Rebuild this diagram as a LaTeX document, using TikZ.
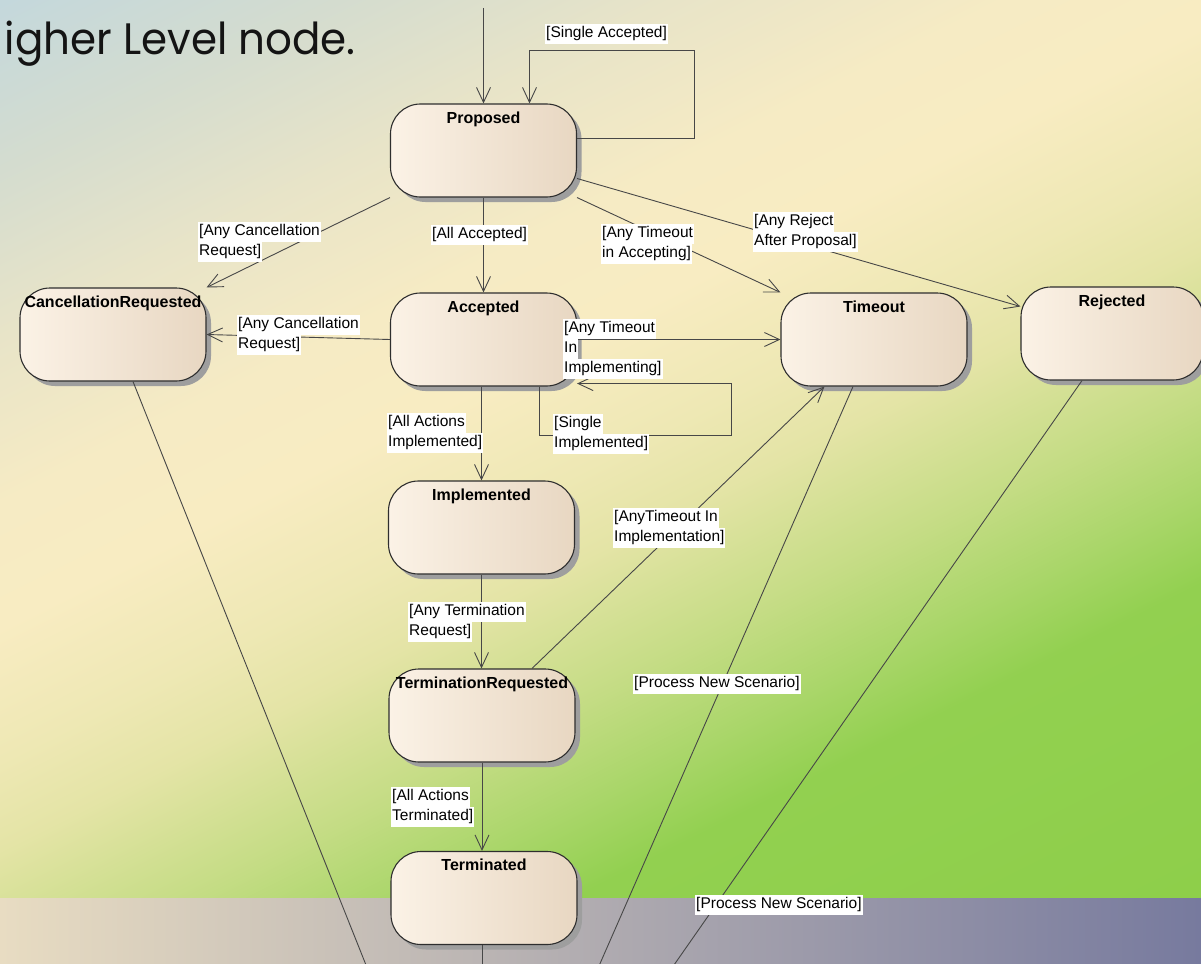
\documentclass[tikz,border=0pt]{standalone}
\usepackage{fontspec}
\setmainfont{Liberation Sans}
\newfontfamily\headf{Poppins}
\usetikzlibrary{arrows.meta,shadows,calc}
\definecolor{bgA}{HTML}{C4D8DC}
\definecolor{bgB}{HTML}{D4DCCF}
\definecolor{bgC}{HTML}{E8E4C8}
\definecolor{bgD}{HTML}{F6EBC4}
\definecolor{bgE}{HTML}{F8ECC2}
\definecolor{bgF}{HTML}{EEE8B4}
\definecolor{bgG}{HTML}{E4E4A6}
\definecolor{bgH}{HTML}{C4DC84}
\definecolor{bgI}{HTML}{AAD66A}
\definecolor{bgJ}{HTML}{92D050}
\definecolor{bgK}{HTML}{8ECF4A}
\definecolor{bandL}{HTML}{E8DCC2}
\definecolor{bandM}{HTML}{B4B2AD}
\definecolor{bandR}{HTML}{777A9E}
\definecolor{edgec}{HTML}{474747}
\definecolor{boxL}{HTML}{FBF2E6}
\definecolor{boxM}{HTML}{F9EEDF}
\definecolor{boxR}{HTML}{E8D7C2}
\definecolor{boxline}{HTML}{2E2E2E}
\pgfdeclarehorizontalshading{bgsh}{100bp}{color(0bp)=(bgA); color(26.08bp)=(bgA);
 color(31.44bp)=(bgB); color(36.79bp)=(bgC); color(42.15bp)=(bgD); color(46.08bp)=(bgE);
 color(50.36bp)=(bgF); color(53.22bp)=(bgG); color(57.86bp)=(bgH); color(61.08bp)=(bgI);
 color(63.94bp)=(bgJ); color(73.94bp)=(bgK); color(100bp)=(bgK)}
\newcommand{\lbl}[1]{\colorbox{white}{\strut #1}}
\newcommand{\labf}{\fontsize{15.5}{18}\selectfont\setlength{\fboxsep}{1pt}\lineskip=0pt\relax}
\newcommand{\titf}{\fontsize{16}{18}\selectfont\bfseries}
\tikzset{
  state/.style={rectangle, rounded corners=30pt, minimum width=186pt, minimum height=93pt,
    inner sep=0pt, draw=boxline, line width=1.1pt,
    left color=boxL, middle color=boxM, right color=boxR,
    general shadow={fill=black!38, shadow xshift=5pt, shadow yshift=-5pt}},
  ttl/.style={font=\titf, anchor=base, yshift=-20pt, inner sep=0pt},
  tr/.style={draw=edgec, line width=0.9pt, -{Straight Barb[length=15pt,width=14pt,line width=0.9pt]}},
  ln/.style={draw=edgec, line width=0.9pt},
  lab/.style={anchor=north west, inner sep=0pt, align=left, font=\labf},
}
\begin{document}
\begin{tikzpicture}[x=1pt,y=-1pt]
\useasboundingbox (0,0) rectangle (1201,963);
\clip (0,0) rectangle (1201,963);
% background (square path so that the rotated shading keeps its proportions)
\shade[shading=bgsh, shading angle=-63.4] (-99.5,-251) rectangle (1300.5,1149);
\shade[left color=bandL, middle color=bandM, right color=bandR] (0,898) rectangle (1201,963);
% heading
\node[font=\headf\fontsize{44}{50}\selectfont, anchor=base east, inner sep=0pt, text=black!92] (head) at (356,55) {\scalebox{0.955}[1]{igher Level node.}};
% states
\node[state, label={[ttl]north:Proposed}] (prop) at (483.5,150.5) {};
\node[state, label={[ttl]north:Accepted}] (acc) at (483.5,339.5) {};
\node[state, label={[ttl]north:CancellationRequested}] (canc) at (113,334.5) {};
\node[state, label={[ttl]north:Timeout}] (tim) at (874,339.5) {};
\node[state, minimum width=182pt, label={[ttl]north:Rejected}] (rej) at (1112,333.5) {};
\node[state, label={[ttl]north:Implemented}] (impl) at (481.5,527.5) {};
\node[state, label={[ttl]north:TerminationRequested}] (treq) at (482,715.5) {};
\node[state, label={[ttl]north:Terminated}] (term) at (484,898) {};
% free ends
\coordinate (init) at (483.5,8);
\coordinate (cend) at (370,975);
\coordinate (tend) at (595,975);
\coordinate (rend) at (667,975);
\coordinate (send) at (482,975);
% transitions
\draw[tr] (init) -- (prop.north);
\draw[tr] ($(prop.east)+(0,-12)$) -- ++(117,0) -- ++(0,-88) -| ($(prop.north)+(46,0)$);
\draw[tr] (prop.south west) -- (canc.north east);
\draw[tr] (prop.south) -- (acc.north);
\draw[tr] (prop.south east) -- (tim.north west);
\draw[tr] ($(prop.east)+(0,28)$) -- ($(rej.west)+(0,-27)$);
\draw[tr] (acc.west) -- (canc.east);
\draw[tr] (acc.east) -- (tim.west);
\draw[tr] ($(acc.south)+(55.5,0)$) -- ++(0,49) -- ++(192,0) -- ++(0,-52) -- ($(acc.south east)+(0,-3)$);
\draw[tr] (acc.south -| impl.north) -- (impl.north);
\draw[tr] (impl.south) -- (impl.south |- treq.north);
\draw[tr] ($(treq.north)+(50,0)$) -- ($(tim.south west)+(44,0)$);
\draw[tr] (treq.south) -- (treq.south |- term.north);
\draw[ln] (term.south -| send) -- (send);
\draw[ln] ($(canc.south)+(20,0)$) -- (cend);
\draw[ln] ($(tim.south)+(-21,0)$) -- (tend);
\draw[ln] ($(rej.south)+(-30,0)$) -- (rend);
% guards
\node[lab] (g1) at (545,24) {\lbl{[Single Accepted]}};
\node[lab] (g2) at (198,222) {\lbl{[Any Cancellation}\\\lbl{Request]}};
\node[lab] (g3) at (431,225) {\lbl{[All Accepted]}};
\node[lab] (g4) at (601,224) {\lbl{[Any Timeout}\\\lbl{in Accepting]}};
\node[lab] (g5) at (753,212) {\lbl{[Any Reject}\\\lbl{After Proposal]}};
\node[lab] (g6) at (237,315) {\lbl{[Any Cancellation}\\\lbl{Request]}};
\node[lab] (g7) at (563,319) {\lbl{[Any Timeout}\\\lbl{In}\\\lbl{Implementing]}};
\node[lab] (g8) at (553,414) {\lbl{[Single}\\\lbl{Implemented]}};
\node[lab] (g9) at (387,413) {\lbl{[All Actions}\\\lbl{Implemented]}};
\node[lab] (g10) at (613,508) {\lbl{[AnyTimeout In}\\\lbl{Implementation]}};
\node[lab] (g11) at (408,602) {\lbl{[Any Termination}\\\lbl{Request]}};
\node[lab] (g12) at (633,674) {\lbl{[Process New Scenario]}};
\node[lab] (g13) at (391,787) {\lbl{[All Actions}\\\lbl{Terminated]}};
\node[lab] (g14) at (695,895) {\lbl{[Process New Scenario]}};
\end{tikzpicture}
\end{document}
